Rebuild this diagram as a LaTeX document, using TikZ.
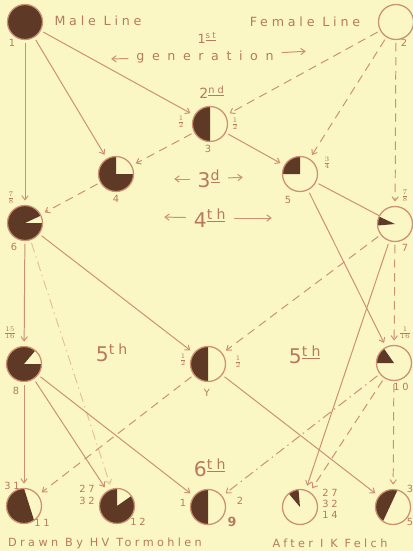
\documentclass[tikz,border=0pt]{standalone}
\usepackage{fontspec}
\usepackage{tikz}
\usetikzlibrary{arrows.meta, positioning}
\newfontfamily\handfont[LetterSpace=30]{DejaVu Sans}
\newfontfamily\widefont[LetterSpace=60]{DejaVu Sans}
\definecolor{pedBg}{HTML}{FAF7C4}
\definecolor{pedLine}{HTML}{CD9070}
\definecolor{pedInk}{HTML}{B87A5A}
\definecolor{pedDark}{HTML}{5E3A26}

\tikzset{
  bird/.style={circle, draw=pedLine, line width=0.9pt, fill=pedBg,
               minimum size=0.875cm, inner sep=0pt},
  wedge/.style 2 args={path picture={\fill[pedDark]
      (path picture bounding box.center) -- ++(#1:1cm)
      arc[start angle=#1, end angle=#2, radius=1cm] -- cycle;}},
  chord/.style 2 args={path picture={\fill[pedDark]
      (path picture bounding box.center) ++(#1:0.44cm)
      arc[start angle=#1, end angle=#2, radius=0.44cm] -- cycle;}},
  txt/.style={text=pedInk, font=\handfont\small},
  big/.style={text=pedInk, font=\handfont\Large},
  num/.style={text=pedInk, font=\handfont\scriptsize, inner sep=0pt},
  arr/.style={draw=pedLine, -{Straight Barb[length=3pt,width=4.5pt]},
              shorten >=3pt, shorten <=2pt},
  plain/.style={draw=pedLine, shorten <=2pt},
  dashline/.style={dash pattern=on 6pt off 4pt},
  dotdash/.style={dash pattern=on 7pt off 3pt on 1pt off 3pt}
}

\begin{document}
\begin{tikzpicture}[x=0.025cm, y=-0.025cm, line width=0.7pt]
  \useasboundingbox (0,0) rectangle (413,551);
  \fill[pedBg] (0,0) rectangle (413,551);

  % the birds, generation by generation
  \node[bird, fill=pedDark] (n1) at (25,22) {};
  \node[bird] (n2) at (396,22) {};
  \node[bird, wedge={90}{270}] (n3) at (210,124) {};
  \node[bird, wedge={90}{360}] (n4) at (116,174) {};
  \node[bird, wedge={90}{180}] (n5) at (300,174) {};
  \node[bird, wedge={25}{360}] (n6) at (25,223) {};
  \node[bird, wedge={155}{185}] (n7) at (395,224) {};
  \node[bird, wedge={50}{360}] (n8) at (24,364) {};
  \node[bird, wedge={90}{270}] (nY) at (208,364) {};
  \node[bird, wedge={125}{180}] (n10) at (394,363) {};
  \node[bird, chord={90}{305}] (n11) at (24,506) {};
  \node[bird, wedge={90}{395}] (n12) at (117,506) {};
  \node[bird, wedge={90}{270}] (n9) at (208,507) {};
  \node[bird, wedge={95}{130}] (n14) at (300,507) {};
  \node[bird, chord={75}{235}] (n15) at (393,507) {};

  % numbers and blood fractions
  \node[num] (l1) at (12,43) {1};
  \node[num] (l2) at (404,43) {2};
  \node[num] (l3) at (208,149) {3};
  \node[num] (l3a) at (181,122) {$\frac12$};
  \node[num] (l3b) at (235,124) {$\frac12$};
  \node[num] (l4) at (116,199) {4};
  \node[num] (l5) at (288,200) {5};
  \node[num] (l5a) at (327,163) {$\frac34$};
  \node[num] (l6) at (14,247) {6};
  \node[num] (l6a) at (11,198) {$\frac78$};
  \node[num] (l7) at (405,248) {7};
  \node[num] (l7a) at (405,196) {$\frac78$};
  \node[num] (l8) at (16,391) {8};
  \node[num] (l8a) at (10,333) {$\frac{15}{16}$};
  \node[num] (lY) at (207,393) {Y};
  \node[num] (lYa) at (183,360) {$\frac12$};
  \node[num] (lYb) at (238,362) {$\frac12$};
  \node[num] (l10) at (401,387) {10};
  \node[num] (l10a) at (405,333) {$\frac{1}{16}$};
  \node[num] (l11) at (42,523) {11};
  \node[num] (l11a) at (12,486) {31};
  \node[num] (l12) at (138,522) {12};
  \node[num, align=center] (l12a) at (87,495) {27\\32};
  \node[num, font=\handfont\small\bfseries] (l9) at (232,522) {9};
  \node[num] (l9a) at (183,503) {1};
  \node[num] (l9b) at (240,501) {2};
  \node[num, align=left] (l14) at (330,504) {27\\32\\14};
  \node[num] (l15a) at (410,489) {3};
  \node[num] (l15b) at (410,522) {5};

  % headings
  \node[txt] (tMale) at (98,21) {Male Line};
  \node[txt] (tFemale) at (305,22) {Female Line};
  \node[txt] (tFirst) at (207,38) {1\textsuperscript{\underline{st}}};
  \node[txt, font=\widefont\small] (tGen) at (205,57) {generation};
  \coordinate (g1) at (107,59);
  \coordinate (g2) at (310,51);
  \node[txt, font=\handfont\normalsize] (tSecond) at (212,92) {2\textsuperscript{\underline{nd}}};
  \node[big] (tThird) at (209,179) {3\textsuperscript{\underline{d}}};
  \coordinate (t3l) at (170,179);
  \coordinate (t3r) at (247,177);
  \node[big] (tFourth) at (210,218) {4\textsuperscript{\underline{th}}};
  \coordinate (t4l) at (160,217);
  \coordinate (t4r) at (276,218);
  \node[big] (tFifthA) at (112,353) {5\textsuperscript{th}};
  \node[big] (tFifthB) at (305,355) {5\textsuperscript{\underline{th}}};
  \node[big] (tSixth) at (210,468) {6\textsuperscript{\underline{th}}};
  \node[txt, font=\handfont\footnotesize] (tDrawn) at (105,543) {Drawn By HV Tormohlen};
  \node[txt, font=\handfont\footnotesize] (tAfter) at (330,543) {After I K Felch};

  \draw[arr] (tGen) -- (g1);
  \draw[arr] (tGen) -- (g2);
  \draw[arr] (tThird) -- (t3l);
  \draw[arr] (tThird) -- (t3r);
  \draw[arr] (tFourth) -- (t4l);
  \draw[arr] (tFourth) -- (t4r);

  % matings
  \draw[arr] (n1) -- (n6);
  \draw[arr] (n1) -- (n4);
  \draw[arr] (n1) -- (n3);
  \draw[arr, dashline] (n2) -- (n3);
  \draw[arr, dashline] (n2) -- (n5);
  \draw[arr, dashline] (n2) -- (n7);
  \draw[arr, dashline] (n3) -- (n4);
  \draw[arr] (n3) -- (n5);
  \draw[arr, dashline] (n4) -- (n6);
  \draw[plain] (n5) -- (n7);
  \draw[arr] (n5) -- (n10);
  \draw[arr, dashline] (n7) -- (nY);
  \draw[arr, dashline] (n7) -- (n10);
  \draw[arr] (n6) -- (nY);
  \draw[arr] (n6) -- (n8);
  \draw[arr, dotdash, draw opacity=0.5] (n6) -- (n12);
  \draw[arr] (n7) -- (n14);
  \draw[arr] (nY) -- (n15);
  \draw[arr, dashline] (nY) -- (n11);
  \draw[arr] (n8) -- (n11);
  \draw[arr] (n8) -- (n12);
  \draw[arr] (n8) -- (n9);
  \draw[arr, dotdash] (n10) -- (n9);
  \draw[arr, dashline] (n10) -- (n14);
  \draw[arr, dashline] (n10) -- (n15);
\end{tikzpicture}
\end{document}
